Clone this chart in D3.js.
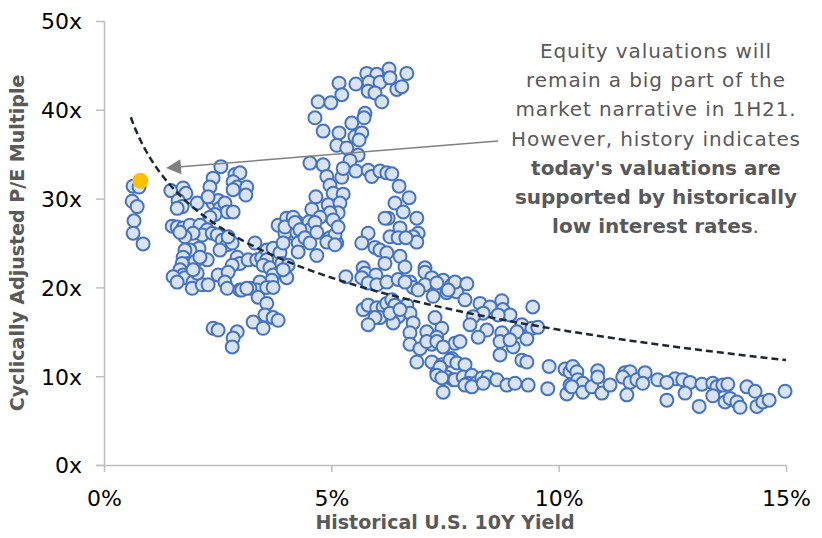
<!DOCTYPE html>
<html><head><meta charset="utf-8">
<script src="https://cdn.jsdelivr.net/npm/d3@7"></script>
<style>body{margin:0;background:#fff}</style>
</head><body>
<svg id="chart" width="822" height="538"></svg>
<script>
// ---- data ----
const xTickValues = [0, 5, 10, 15];
const yTickValues = [0, 10, 20, 30, 40, 50];
const xTitle = "Historical U.S. 10Y Yield";
const yTitle = "Cyclically Adjusted P/E Multiple";
const currentPoint = [0.8, 32.0];           // today (yield %, CAPE)
const trendCoef = [34.7, -8.45];            // logarithmic trendline: a + b*ln(x)
const trendDomain = [0.59, 15];
const noteLines = [
  [["Equity valuations will", false]],
  [["remain a big part of the", false]],
  [["market narrative in 1H21.", false]],
  [["However, history indicates", false]],
  [["today's valuations are", true]],
  [["supported by historically", true]],
  [["low interest rates", true], [".", false]]
];
// historical observations: [10Y yield %, CAPE multiple]
const historicalPoints = [
  [0.64,31.4],[0.62,29.7],[0.73,29.1],[0.66,27.5],[0.64,26.1],[0.86,24.9],[0.77,31.3],
  [2.57,33.6],[2.40,32.3],[2.33,31.3],[2.88,32.7],[2.99,32.9],[2.84,31.9],[2.93,31.3],[2.84,31.0],
  [3.14,31.3],[3.12,30.4],[1.47,30.9],[1.74,31.2],[1.80,30.6],[1.63,29.8],[1.72,29.1],[1.61,28.9],
  [2.05,29.5],[2.40,29.5],[2.51,29.8],[2.55,28.9],[2.66,29.5],[2.71,28.5],[2.84,28.5],[2.29,30.2],
  [2.44,28.2],[2.33,27.9],[1.50,26.9],[1.61,26.8],[1.74,26.7],[1.89,27.0],[2.11,27.0],[2.27,26.5],
  [2.16,25.9],[1.96,26.1],[1.78,25.7],[1.67,26.2],[2.38,26.1],[2.49,25.9],[2.60,25.3],[2.71,24.8],
  [2.55,24.2],[2.82,25.0],[2.73,25.7],[2.09,24.4],[1.89,24.2],[1.78,24.2],[1.74,23.4],[1.85,22.7],
  [2.00,22.9],[2.27,23.1],[2.11,23.4],[2.93,23.4],[2.99,22.7],[2.82,22.5],[1.72,22.7],[1.67,22.0],
  [1.74,21.4],[1.78,21.1],[1.52,21.2],[1.61,20.6],[1.96,20.6],[1.94,19.9],[2.16,20.3],[2.29,20.3],
  [2.05,21.6],[1.96,22.0],[2.51,21.4],[2.73,21.7],[2.66,20.6],[2.71,19.9],[2.99,19.7],[3.17,23.1],
  [3.36,23.1],[3.47,23.3],[3.32,25.0],[3.58,24.2],[3.72,24.4],[3.87,23.9],[3.83,27.0],[4.02,27.8],
  [4.09,26.8],[4.13,26.1],[3.98,26.1],[4.24,26.2],[4.24,27.4],[4.16,27.9],[3.58,23.1],[3.50,22.5],
  [3.65,22.2],[3.87,21.7],[4.02,21.1],[3.72,21.4],[3.69,20.8],[3.91,22.7],[3.43,20.6],[3.36,19.7],
  [3.21,19.9],[3.39,18.9],[3.58,18.2],[3.58,20.0],[3.72,20.0],[3.54,16.9],[3.28,16.1],[3.50,15.4],
  [3.72,16.6],[3.83,16.3],[2.40,15.4],[2.51,15.2],[2.93,15.0],[2.84,14.3],[2.82,13.3],[3.03,19.7],
  [3.14,19.9],
  [5.17,43.0],[5.54,42.9],[4.71,40.9],[4.99,40.8],[5.23,41.7],[5.78,44.1],[6.00,44.0],[6.27,44.6],
  [6.66,44.1],[5.83,43.1],[6.07,43.1],[6.29,43.6],[6.44,42.3],[6.55,42.6],[5.81,42.1],[5.96,41.9],
  [6.11,40.9],[4.64,39.1],[4.82,37.6],[5.74,39.6],[5.72,39.1],[5.45,38.5],[5.17,37.4],[5.12,36.0],
  [5.52,37.0],[5.67,37.4],[5.61,36.6],[5.34,35.7],[5.59,34.9],[5.41,34.3],[4.53,34.0],[4.82,33.8],
  [4.90,32.5],[5.23,32.4],[5.26,33.4],[5.54,33.1],[5.81,33.2],[5.89,32.5],[6.07,33.1],[6.22,32.9],
  [6.33,32.8],[4.97,31.5],[5.04,30.6],[4.66,30.2],[4.93,29.3],[5.26,30.5],[5.19,29.5],[5.15,28.4],
  [4.97,28.4],[5.04,27.6],[4.57,28.8],[4.51,27.4],[4.75,27.9],[3.94,25.0],[4.27,25.0],[4.53,26.5],
  [4.64,27.3],[6.49,31.4],[6.71,30.1],[6.40,29.5],[6.58,28.5],[6.88,27.8],[6.25,27.8],[6.18,27.8],
  [6.51,26.7],[6.91,26.1],[6.80,25.7],[6.88,25.1],[5.81,26.1],[5.67,25.0],[5.96,24.5],[6.07,24.2],
  [6.22,23.9],[6.29,25.7],[6.51,23.5],[4.68,23.6],[5.12,25.0],[4.97,25.6],[5.08,25.9],[7.06,22.2],
  [5.70,22.2],
  [5.15,26.8],[4.90,25.1],[5.08,24.8],[3.98,26.8],[4.20,27.3],[4.31,26.5],[4.42,25.6],[4.53,25.0],
  [4.68,26.2],[4.27,24.0],[4.05,22.5],[3.94,22.0],[6.47,25.6],[6.64,25.6],[6.18,22.7],[6.62,22.3],
  [5.32,21.2],[5.74,21.6],[5.67,21.1],[5.98,21.4],[5.81,20.5],[6.00,20.3],[6.22,20.6],[6.47,20.9],
  [6.73,20.6],[6.80,20.0],[7.06,21.7],[7.21,21.1],[7.46,20.8],[7.65,20.3],[7.76,20.4],[7.35,19.9],
  [7.06,20.3],[6.91,19.7],[7.24,19.0],[7.54,19.4],[7.76,19.5],[5.70,17.5],[5.81,18.0],[6.00,17.7],
  [6.14,17.8],[6.22,18.2],[6.33,18.6],[6.40,18.0],[6.66,18.0],[6.73,17.1],[6.47,16.7],[6.36,16.0],
  [6.07,16.6],[5.96,16.6],[5.81,15.8],[6.29,17.1],[6.80,16.0],[6.73,14.9],[7.10,15.0],[7.28,16.6],
  [7.43,15.4],[7.32,14.4],[6.73,13.6],[6.95,13.1],[7.21,13.6],[6.88,11.6],[7.21,11.6],[7.43,11.3],
  [7.32,10.4],[7.54,9.9],[7.65,12.0],[7.72,13.7],[7.68,9.6],
  [7.72,20.6],[7.98,20.4],[7.57,19.7],[7.32,20.5],[6.62,20.6],[7.94,18.6],[8.27,18.2],[8.49,17.8],
  [8.75,18.5],[8.77,17.5],[8.93,16.9],[8.67,16.9],[8.34,17.1],[8.12,16.7],[8.05,15.8],[8.42,15.2],
  [8.23,14.4],[8.75,14.9],[8.71,13.9],[9.00,13.3],[8.71,12.4],[9.19,15.8],[9.41,15.4],[9.54,15.5],
  [9.08,15.0],[9.30,14.2],[8.93,14.1],[9.19,11.8],[9.30,11.6],[9.43,17.8],[9.79,11.1],[10.14,10.8],
  [10.25,10.5],[9.76,8.6],[10.18,8.0],[10.25,9.0],[6.51,17.5],[7.10,13.9],[7.32,13.9],[7.46,13.3],
  [7.83,13.9],[7.61,11.8],[7.76,11.5],[7.94,11.3],[7.39,11.0],[7.32,10.1],[7.43,9.8],[7.72,9.6],
  [7.90,9.9],[8.09,10.1],[8.01,9.2],[8.20,9.3],[8.31,9.8],[8.45,9.9],[8.64,9.6],[8.86,9.0],
  [9.04,9.2],[9.33,9.0],[7.46,8.2],[7.94,9.0],[8.09,8.8],[8.34,9.2],
  [10.31,11.1],[10.40,10.5],[10.42,9.6],[10.53,9.2],[10.29,8.8],[10.53,8.2],[10.73,8.8],[10.86,10.6],
  [10.86,9.9],[10.95,8.1],[11.13,9.0],[11.46,10.4],[11.57,10.5],[11.41,9.9],[11.57,9.3],[11.50,7.9],
  [11.72,9.6],[11.90,10.4],[11.85,9.2],[12.18,9.6],[12.38,7.3],[12.56,9.7],[12.73,9.6],[12.89,9.3],
  [12.78,8.1],[12.38,9.3],[13.15,9.1],[13.39,9.2],[13.48,8.8],[13.61,9.0],[13.72,9.1],[13.39,7.8],
  [13.66,7.1],[13.77,7.5],[13.92,7.1],[13.99,6.5],[13.09,6.6],[14.14,8.8],[14.32,8.3],[14.36,6.6],
  [14.49,7.1],[14.63,7.3],[14.98,8.3]
];

// ---- layout ----
const svg = d3.select("#chart");
const W = 822, H = 538;
const plot = {left: 104, right: 786, top: 21, bottom: 465};
const x = d3.scaleLinear().domain([0, 15]).range([plot.left, plot.right]);
const y = d3.scaleLinear().domain([0, 50]).range([plot.bottom, plot.top]);
const axisColor = "#bfbfbf";
const tickFont = "'DejaVu Sans', sans-serif";

// y axis
const yAxis = svg.append("g").attr("transform", `translate(${plot.left},0)`)
  .call(d3.axisLeft(y).tickValues(yTickValues).tickSize(8).tickPadding(14).tickFormat(d => d + "x"));
// x axis
const xAxis = svg.append("g").attr("transform", `translate(0,${plot.bottom})`)
  .call(d3.axisBottom(x).tickValues(xTickValues).tickSize(7).tickPadding(18).tickFormat(d => d + "%"));
[yAxis, xAxis].forEach(g => {
  g.select(".domain").attr("stroke", axisColor).attr("stroke-width", 1.5);
  g.selectAll(".tick line").attr("stroke", axisColor).attr("stroke-width", 1.5);
  g.selectAll(".tick text").attr("fill", "#000").style("font-family", tickFont).style("font-size", "22px");
});
xAxis.select(".domain").attr("d", `M${plot.left - 8},0.5H${plot.right}`);
yAxis.select(".domain").attr("d", `M0.5,${plot.top}V${plot.bottom}`);
yAxis.selectAll(".tick text").attr("dy", "0.36em");

// axis titles
svg.append("text").attr("x", (plot.left + plot.right) / 2).attr("y", 529)
  .attr("text-anchor", "middle").attr("fill", "#595959")
  .style("font-family", "'DejaVu Sans', sans-serif").style("font-weight", "bold").style("font-size", "19px")
  .text(xTitle);
svg.append("text").attr("transform", `translate(24,${(plot.top + plot.bottom) / 2}) rotate(-90)`)
  .attr("text-anchor", "middle").attr("fill", "#595959")
  .style("font-family", "'DejaVu Sans', sans-serif").style("font-weight", "bold").style("font-size", "19px")
  .text(yTitle);

// scatter
svg.append("g").selectAll("circle").data(historicalPoints).join("circle")
  .attr("cx", d => x(d[0])).attr("cy", d => y(d[1])).attr("r", 6.5)
  .attr("fill", "#dae3f3").attr("stroke", "#4472c4").attr("stroke-width", 2);

// log trendline
const trendXs = d3.range(0, 101).map(i => trendDomain[0] * Math.pow(trendDomain[1] / trendDomain[0], i / 100));
svg.append("path").datum(trendXs)
  .attr("d", d3.line().x(v => x(v)).y(v => y(trendCoef[0] + trendCoef[1] * Math.log(v))))
  .attr("fill", "none").attr("stroke", "#1f2633").attr("stroke-width", 2.5).attr("stroke-dasharray", "7,4");

// current point
svg.append("circle").attr("cx", x(currentPoint[0])).attr("cy", y(currentPoint[1])).attr("r", 8).attr("fill", "#ffc000");

// arrow
const arrowStart = [498, 141], arrowTip = [166, 168];
const ang = Math.atan2(arrowStart[1] - arrowTip[1], arrowStart[0] - arrowTip[0]);
const aLen = 15, aHalf = 7.5;
const base = [arrowTip[0] + aLen * Math.cos(ang), arrowTip[1] + aLen * Math.sin(ang)];
svg.append("line").attr("x1", arrowStart[0]).attr("y1", arrowStart[1]).attr("x2", base[0]).attr("y2", base[1])
  .attr("stroke", "#808080").attr("stroke-width", 1.5);
svg.append("path").attr("d", `M${arrowTip[0]},${arrowTip[1]}L${base[0] - aHalf * Math.sin(ang)},${base[1] + aHalf * Math.cos(ang)}L${base[0] + aHalf * Math.sin(ang)},${base[1] - aHalf * Math.cos(ang)}Z`)
  .attr("fill", "#808080");

// annotation
const note = svg.append("g");
noteLines.forEach((parts, i) => {
  const t = note.append("text").attr("x", 656).attr("y", 58 + i * 29.2).attr("text-anchor", "middle")
    .attr("fill", "#595959").style("font-family", "'DejaVu Sans', sans-serif").style("font-size", "20px");
  parts.forEach(([s, b]) => {
    t.append("tspan").text(s).style("font-weight", b ? "bold" : "normal")
      .style("letter-spacing", b ? "0px" : "0.9px");
  });
});
</script>
</body></html>
